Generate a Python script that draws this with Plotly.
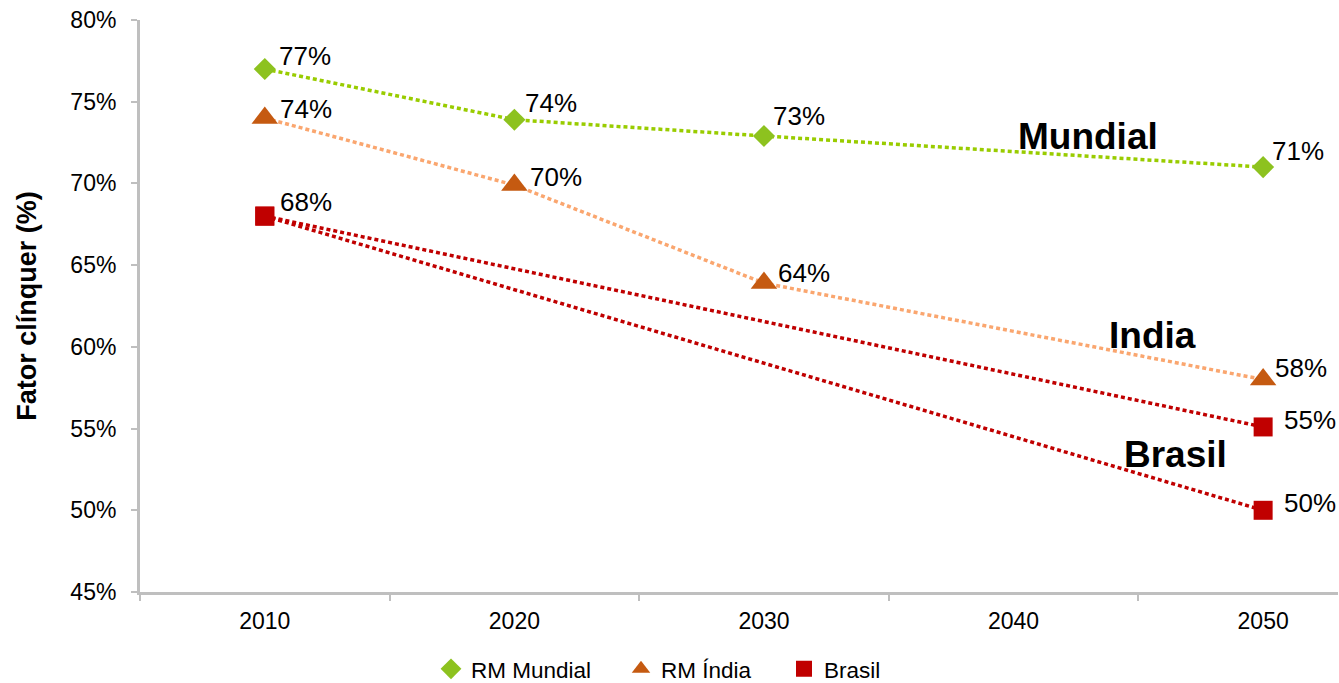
import plotly.graph_objects as go

# Clinker factor roadmap (% of clinker in cement)
years = ["2010", "2020", "2030", "2040", "2050"]

mundial_years = ["2010", "2020", "2030", "2050"]
mundial_vals = [77.0, 73.9, 72.9, 71.0]

india_years = ["2010", "2020", "2030", "2050"]
india_vals = [74.0, 69.9, 63.9, 58.0]

brasil_years = ["2010", "2050"]
brasil_high = [68.0, 55.1]
brasil_low = [68.0, 50.0]

GREEN_LINE = "#99CC00"
GREEN_MARK = "#8DC21F"
ORANGE_LINE = "#FAA66F"
ORANGE_MARK = "#C55A11"
RED = "#C00000"
AXIS_GRAY = "#BFBFBF"
FONT = "Arial, Liberation Sans, sans-serif"

LINE_DASH = "4px,3px"

# pixel offsets of each value label from its marker (dx, dy)
mundial_offsets = [(12, 13), (9, 17), (7, 20), (7, 16)]
india_offsets = [(13, 9), (14, 8), (12, 10), (10, 12)]
brasil_high_offsets = [(13, 14), (19, 7)]
brasil_low_offsets = [None, (19, 7)]

fig = go.Figure()


def add_series(xs, ys, color_line, color_mark, symbol, size):
    fig.add_trace(go.Scatter(
        x=xs, y=ys, mode="lines+markers", showlegend=False,
        line=dict(color=color_line, width=3.5, dash=LINE_DASH),
        marker=dict(symbol=symbol, size=size, color=color_mark),
        hoverinfo="x+y",
    ))


def add_labels(xs, ys, offsets):
    for xv, yv, off in zip(xs, ys, offsets):
        if off is None:
            continue
        fig.add_annotation(
            x=years.index(xv), y=yv, xref="x", yref="y", text=f"{yv:.0f}%",
            showarrow=False, xanchor="left", yanchor="middle",
            xshift=off[0], yshift=off[1],
            font=dict(family=FONT, size=26, color="#000000"),
        )


add_series(mundial_years, mundial_vals, GREEN_LINE, GREEN_MARK, "diamond", 17)
add_series(india_years, india_vals, ORANGE_LINE, ORANGE_MARK, "triangle-up", 23)
add_series(brasil_years, brasil_high, RED, RED, "square", 19)
add_series(brasil_years, brasil_low, RED, RED, "square", 19)

add_labels(mundial_years, mundial_vals, mundial_offsets)
add_labels(india_years, india_vals, india_offsets)
add_labels(brasil_years, brasil_high, brasil_high_offsets)
add_labels(brasil_years, brasil_low, brasil_low_offsets)

# legend entries (marker only), each in its own legend box
legend_items = [
    ("RM Mundial", "diamond", GREEN_MARK, "legend"),
    ("RM Índia", "triangle-up", ORANGE_MARK, "legend2"),
    ("Brasil", "square", RED, "legend3"),
]
for name, symbol, color, lg in legend_items:
    fig.add_trace(go.Scatter(
        x=[None], y=[None], mode="markers", name=name, legend=lg,
        marker=dict(symbol=symbol, size=16, color=color),
    ))

# series names drawn next to the lines
series_labels = [("Mundial", 3.30, 72.9), ("India", 3.555, 60.7), ("Brasil", 3.647, 53.4)]
for txt, xi, yv in series_labels:
    fig.add_annotation(
        x=xi, y=yv, xref="x", yref="y", text=f"<b>{txt}</b>", showarrow=False,
        font=dict(family=FONT, size=37, color="#000000"),
        xanchor="center", yanchor="middle",
    )

legend_common = dict(
    orientation="h", yanchor="middle", y=-0.135, xanchor="left",
    font=dict(family=FONT, size=22.5, color="#000000"),
    itemwidth=30, bgcolor="rgba(0,0,0,0)", borderwidth=0,
)

fig.update_layout(
    width=1339, height=683,
    margin=dict(l=140, r=1, t=20, b=91, autoexpand=False),
    plot_bgcolor="white", paper_bgcolor="white",
    font=dict(family=FONT, color="#000000"),
    showlegend=True,
    legend=dict(legend_common, x=(431 - 140) / 1198),
    legend2=dict(legend_common, x=(621 - 140) / 1198),
    legend3=dict(legend_common, x=(784 - 140) / 1198),
)

fig.update_xaxes(
    type="category", categoryorder="array", categoryarray=years,
    range=[-0.5, 4.3], tickson="boundaries",
    showline=True, linecolor=AXIS_GRAY, linewidth=3,
    ticks="outside", ticklen=6, tickwidth=2, tickcolor=AXIS_GRAY,
    tickfont=dict(size=23), ticklabelstandoff=6,
    showgrid=False, zeroline=False,
)

fig.update_yaxes(
    range=[45, 80], dtick=5, ticksuffix="%",
    showline=True, linecolor=AXIS_GRAY, linewidth=3,
    ticks="outside", ticklen=6, tickwidth=2, tickcolor=AXIS_GRAY,
    tickfont=dict(size=23), ticklabelstandoff=10,
    showgrid=False, zeroline=False,
    title=dict(text="<b>Fator clínquer (%)</b>", font=dict(size=27), standoff=26),
)

fig.write_html("out.html")
